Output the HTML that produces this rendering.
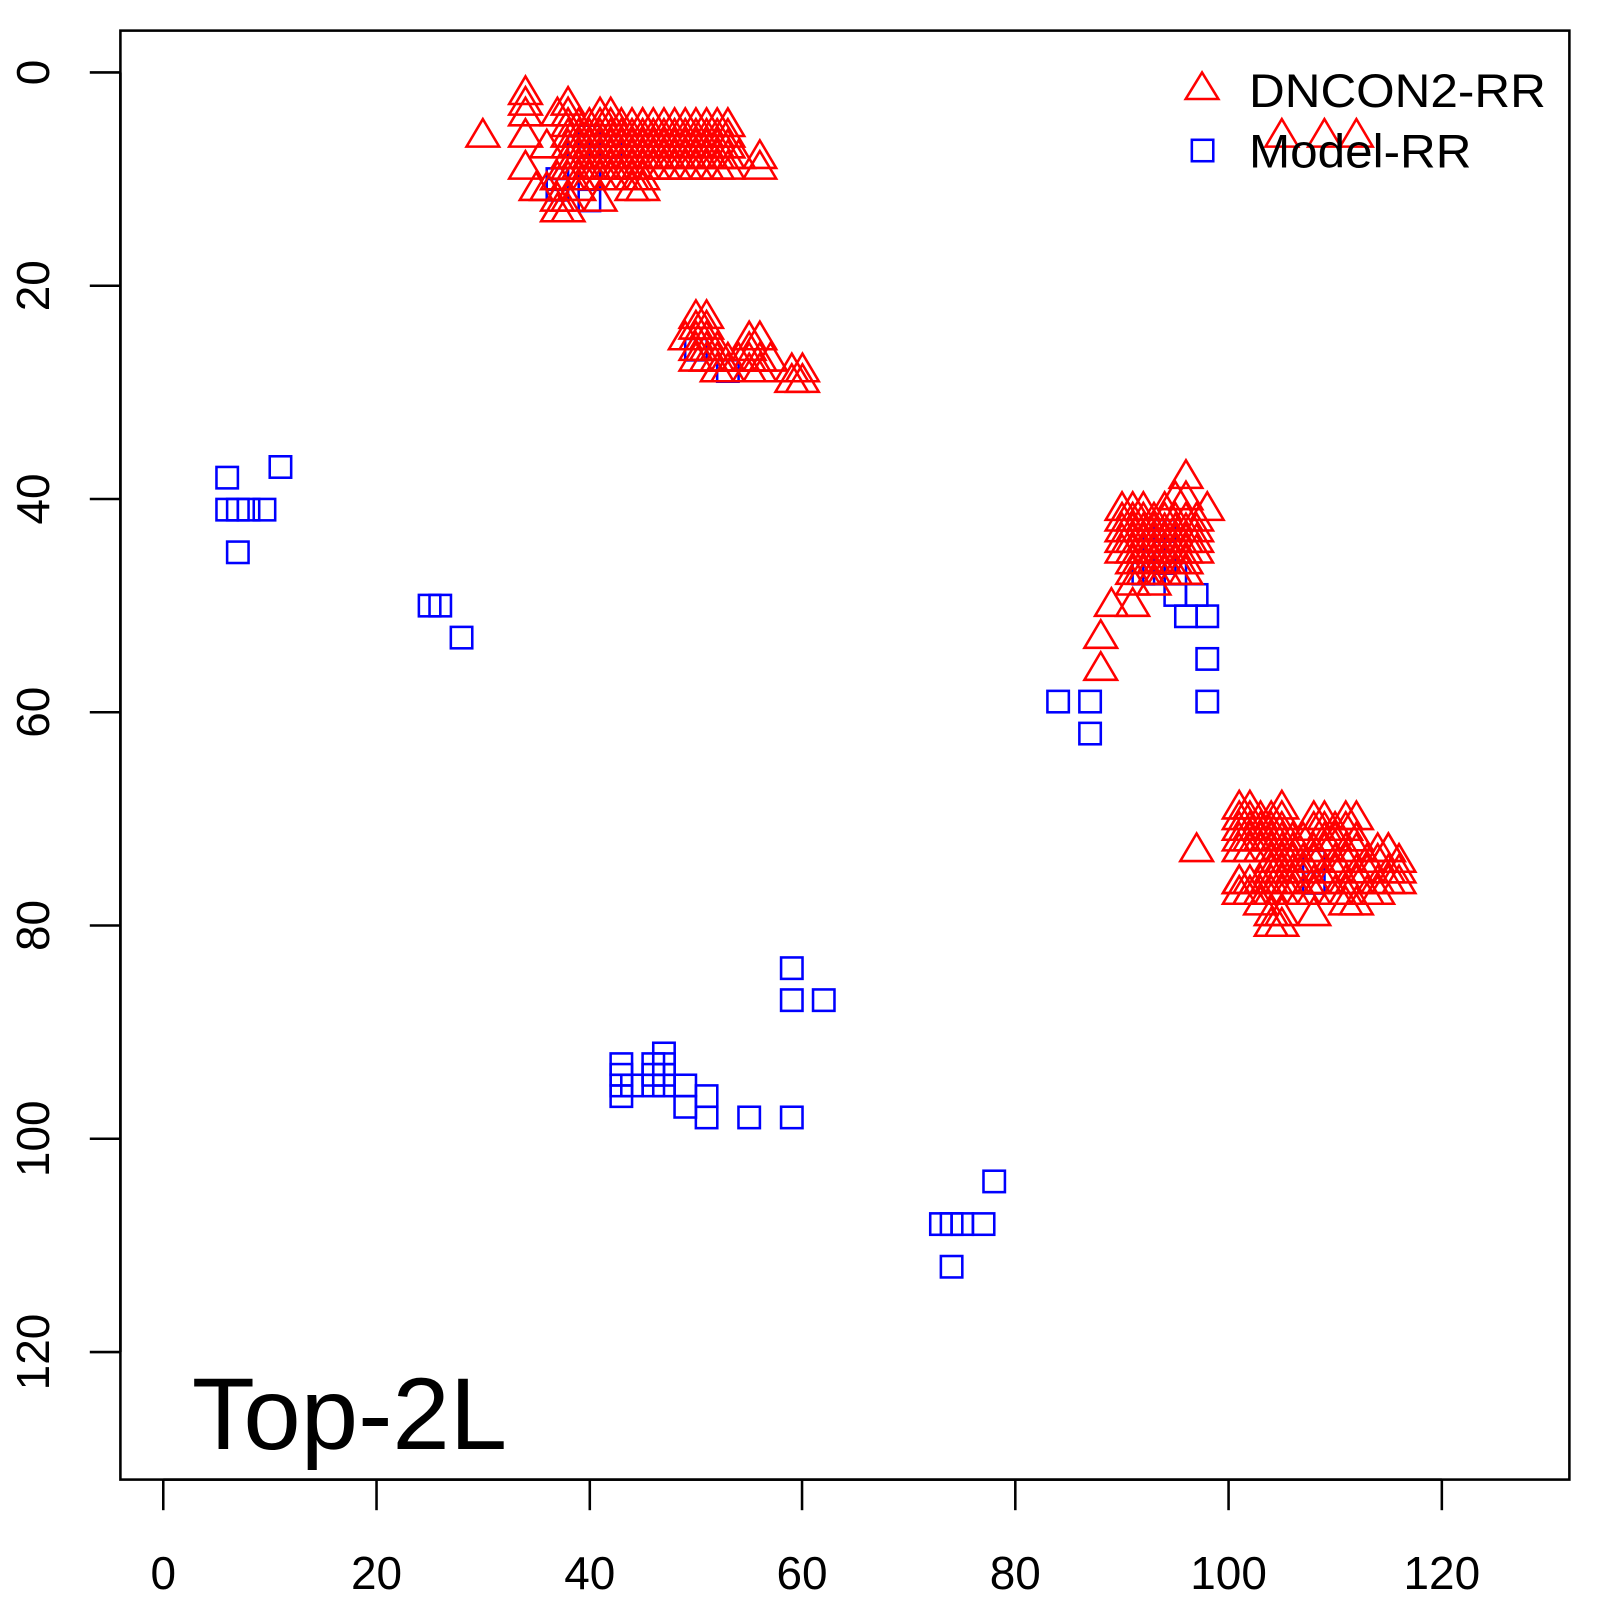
<!DOCTYPE html>
<html><head><meta charset="utf-8"><style>html,body{margin:0;padding:0;background:#fff}svg{display:block}</style></head>
<body>
<svg id="s" xmlns="http://www.w3.org/2000/svg" width="1600" height="1600" viewBox="0 0 1568 1568" font-family="Liberation Sans, sans-serif">
<rect width="1568" height="1568" fill="#fff"/>
<g id="pts"></g>
<rect x="118" y="30" width="1420" height="1420" fill="none" stroke="#000" stroke-width="2.5"/>
<g stroke="#000" stroke-width="2.5">
<line x1="160" y1="1450" x2="1413" y2="1450"/>
<line x1="160" y1="1450" x2="160" y2="1480"/><line x1="369" y1="1450" x2="369" y2="1480"/><line x1="578" y1="1450" x2="578" y2="1480"/><line x1="786" y1="1450" x2="786" y2="1480"/><line x1="995" y1="1450" x2="995" y2="1480"/><line x1="1204" y1="1450" x2="1204" y2="1480"/><line x1="1413" y1="1450" x2="1413" y2="1480"/>
<line x1="118" y1="71" x2="118" y2="1325"/>
<line x1="88" y1="71" x2="118" y2="71"/><line x1="88" y1="280" x2="118" y2="280"/><line x1="88" y1="489" x2="118" y2="489"/><line x1="88" y1="698" x2="118" y2="698"/><line x1="88" y1="907" x2="118" y2="907"/><line x1="88" y1="1116" x2="118" y2="1116"/><line x1="88" y1="1325" x2="118" y2="1325"/>
</g>
<g font-size="45" text-anchor="middle" fill="#000">
<text x="160" y="1557">0</text><text x="369" y="1557">20</text><text x="578" y="1557">40</text><text x="786" y="1557">60</text><text x="995" y="1557">80</text><text x="1204" y="1557">100</text><text x="1413" y="1557">120</text>
<text transform="translate(48,71) rotate(-90)">0</text>
<text transform="translate(48,280) rotate(-90)">20</text>
<text transform="translate(48,489) rotate(-90)">40</text>
<text transform="translate(48,698) rotate(-90)">60</text>
<text transform="translate(48,907) rotate(-90)">80</text>
<text transform="translate(48,1116) rotate(-90)">100</text>
<text transform="translate(48,1325) rotate(-90)">120</text>
</g>
<polygon points="1178,71 1162,97 1194,97" fill="none" stroke="#f00" stroke-width="2.5"/>
<rect x="1168" y="137" width="21" height="21" fill="none" stroke="#00f" stroke-width="2.5"/>
<text x="1224" y="105" font-size="46" textLength="291" lengthAdjust="spacingAndGlyphs">DNCON2-RR</text>
<text x="1224" y="164" font-size="46" textLength="218" lengthAdjust="spacingAndGlyphs">Model-RR</text>
<text x="188" y="1420" font-size="100" textLength="309" lengthAdjust="spacingAndGlyphs">Top-2L</text>
</svg>
<script>
var g=document.getElementById('pts'),h='';
function X(x){return 160+10.44*x}function Y(y){return 71+10.45*y}
var sq=[[6,38],[11,37],[6,41],[7,41],[8,41],[9.5,41],[7,45],[25,50],[26,50],[28,53],[84,59],[87,59],[87,62],[97,49],[98,51],[96,51],[98,55],[98,59],[95,49],[92,47],[93,47],[94,46],[95,47],[93,44],[94,43],[59,84],[59,87],[62,87],[43,93],[43,94],[43,95],[43,96],[44,95],[46,93],[46,94],[46,95],[47,92],[47,93],[47,94],[47,95],[49,95],[49,97],[51,96],[51,98],[55,98],[59,98],[78,104],[73,108],[74,108],[75,108],[77,108],[74,112],[53,28],[50,26],[40,10],[39,7],[40,6],[42,7],[40,12],[108,74],[108,76],[37,10],[37,11]];
var tr=[[30,6],[34,2],[34,3],[34,4],[34,6],[34,9],[35,11],[37,4],[37,10],[37,12],[37,13],[38,3],[38,4],[41,4],[42,4],[45,5],[41,12],[44,11],[45,11],[56,8],[56,9],[54,8],[53,7],[38,12],[38,13],[39,11],[36,7],[36,11]];
for(var x=38;x<=53;x++)for(var y=5;y<=9;y++)tr.push([x,y]);
for(var x=38;x<=45;x++)tr.push([x,10]);
tr=tr.concat([[50,23],[51,23],[49,25],[50,24],[50,25],[50,26],[50,27],[51,24],[51,25],[51,26],[51,27],[52,26],[52,27],[52,28],[53,27],[55,25],[56,25],[55,26],[55,27],[55,28],[56,27],[56,28],[59,28],[60,28],[59,29],[60,29],[57,27],[54,27],[53,28],
[96,38],[95,40],[96,40],[90,41],[91,41],[92,41],[94,41],[98,41],[91,48],[93,48],[89,50],[91,50],[88,53],[88,56],[97,73],[105,6],[109,6],[112,6]]);
for(var x=90;x<=97;x++)for(var y=42;y<=47;y++){if((x==90||x==97)&&y>45)continue;tr.push([x,y]);}
tr=tr.concat([[101,69],[102,69],[105,69],[103,78],[104,79],[105,79],[104,80],[105,80],[108,79],[112,78],[111,78],[101,76],[102,77],[109,71],[110,72],[112,72],[115,73],[116,74],[116,76],[116,75]]);
for(var x=101;x<=115;x++)for(var y=70;y<=77;y++){if(x<104&&y>73&&y<76)continue;if(x>112&&y<73)continue;if(x>105&&x<108&&y<72)continue;if((x+y)%3==0&&x>106)continue;tr.push([x,y]);}
sq.forEach(function(p){var cx=X(p[0]),cy=Y(p[1]);h+='<rect x="'+(cx-10.5)+'" y="'+(cy-10.5)+'" width="21" height="21" fill="none" stroke="#00f" stroke-width="2.5"/>';});
tr.forEach(function(p){var cx=X(p[0]),cy=Y(p[1]);h+='<polygon points="'+cx+','+(cy-17)+' '+(cx-16)+','+(cy+10)+' '+(cx+16)+','+(cy+10)+'" fill="none" stroke="#f00" stroke-width="2.5"/>';});
g.innerHTML=h;
</script>
</body></html>
